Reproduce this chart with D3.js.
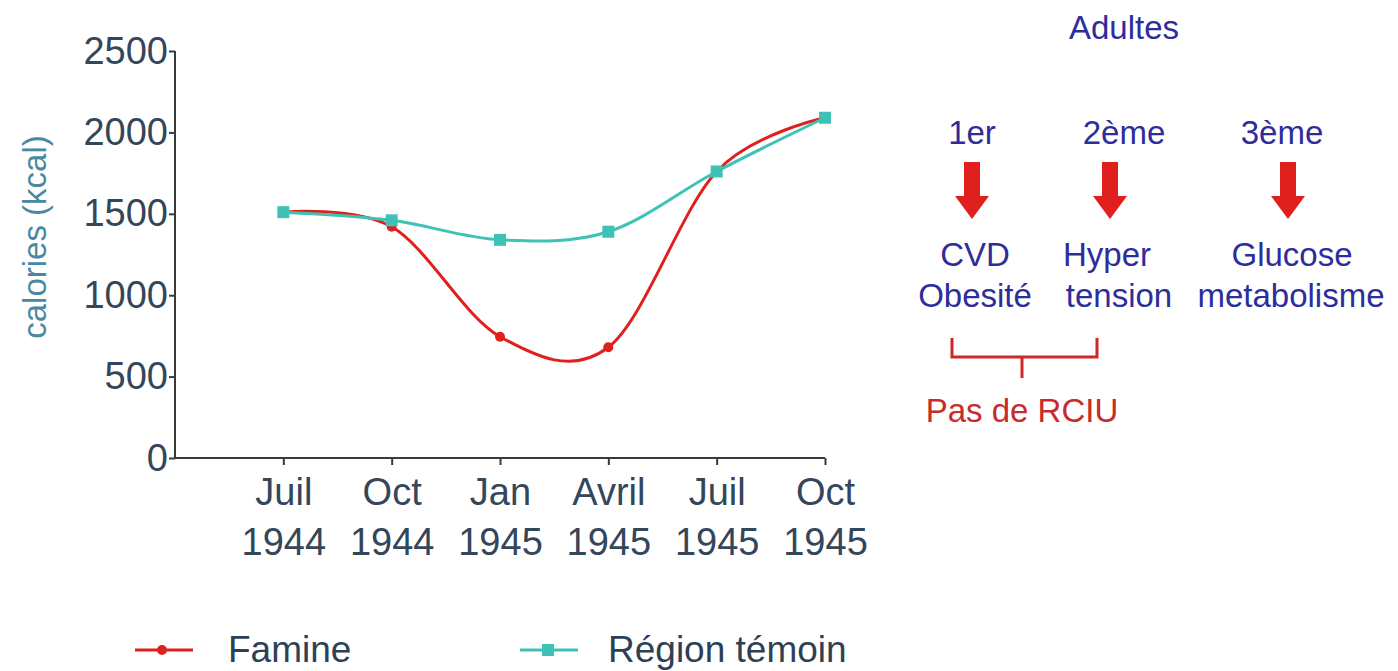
<!DOCTYPE html>
<html lang="fr">
<head>
    <meta charset="UTF-8">
    <title>Famine hollandaise - calories</title>
    <style>
        body {
            margin: 0;
            padding: 0;
            background-color: #ffffff;
            font-family: "Liberation Sans", Arial, sans-serif;
            overflow: hidden;
        }
        .axis path, .axis line {
            stroke: #3a3a3a;
            stroke-width: 2px;
        }
        .axis text {
            fill: #34465a;
            font-size: 38px;
            font-family: "Liberation Sans", Arial, sans-serif;
        }
        .annot {
            fill: #2d2d9c;
            font-size: 33px;
            text-anchor: middle;
        }
    </style>
</head>
<body>
    <div id="chart"></div>

    <script src="https://d3js.org/d3.v7.min.js"></script>
    <script>
        // chart data
        const months = ["Juil", "Oct", "Jan", "Avril", "Juil", "Oct"];
        const years = ["1944", "1944", "1945", "1945", "1945", "1945"];
        const famine = [1510, 1420, 745, 680, 1760, 2090];
        const temoin = [1510, 1460, 1340, 1390, 1760, 2090];
        const yTicks = [0, 500, 1000, 1500, 2000, 2500];

        // side annotations
        const ranks = ["1er", "2ème", "3ème"];
        const outcomes = [["CVD", "Obesité"], ["Hyper", "tension"], ["Glucose", "metabolisme"]];

        const width = 1398, height = 671;
        const red = "#e0201c", teal = "#3fc2b6";

        const svg = d3.select("#chart").append("svg")
            .attr("width", width)
            .attr("height", height);

        const x = d3.scaleLinear().domain([-1, months.length - 1]).range([175, 825]);
        const y = d3.scaleLinear().domain([0, 2500]).range([458, 51]);

        // y axis
        svg.append("g")
            .attr("class", "axis")
            .attr("transform", "translate(175,0)")
            .call(d3.axisLeft(y).tickValues(yTicks).tickFormat(d3.format("d"))
                .tickSize(6).tickPadding(1).tickSizeOuter(0))
            .call(g => g.select(".domain").attr("d", `M0,${y(2500)}V${y(0)}`));

        // x axis with two-line labels
        const xAxis = svg.append("g")
            .attr("class", "axis")
            .attr("transform", `translate(0,${y(0)})`)
            .call(d3.axisBottom(x).tickValues(d3.range(months.length)).tickSize(7).tickSizeOuter(0).tickFormat(""))
            .call(g => g.select(".domain").attr("d", `M${x(-1)},0H${x(months.length - 1)}`));

        xAxis.selectAll(".tick").append("text")
            .attr("fill", "#34465a")
            .attr("text-anchor", "middle")
            .each(function (d) {
                const t = d3.select(this);
                t.append("tspan").attr("x", 0).attr("y", 47).text(months[d]);
                t.append("tspan").attr("x", 0).attr("y", 97).text(years[d]);
            });

        // y axis title
        svg.append("text")
            .attr("transform", "translate(46,237) rotate(-90)")
            .attr("text-anchor", "middle")
            .attr("fill", "#4a87a2")
            .attr("font-size", 33)
            .text("calories (kcal)");

        const line = d3.line()
            .x((d, i) => x(i))
            .y(d => y(d))
            .curve(d3.curveCardinal.tension(0));

        // famine series
        svg.append("path")
            .datum(famine)
            .attr("fill", "none")
            .attr("stroke", red)
            .attr("stroke-width", 3)
            .attr("d", line);

        svg.append("g").selectAll("circle")
            .data(famine)
            .join("circle")
            .attr("cx", (d, i) => x(i))
            .attr("cy", d => y(d))
            .attr("r", 5)
            .attr("fill", red);

        // control region series
        svg.append("path")
            .datum(temoin)
            .attr("fill", "none")
            .attr("stroke", teal)
            .attr("stroke-width", 3)
            .attr("d", line);

        svg.append("g").selectAll("rect")
            .data(temoin)
            .join("rect")
            .attr("x", (d, i) => x(i) - 6)
            .attr("y", d => y(d) - 6)
            .attr("width", 12)
            .attr("height", 12)
            .attr("fill", teal);

        // legend
        const legend = svg.append("g").attr("transform", "translate(0,650)");
        legend.append("line").attr("x1", 135).attr("x2", 193).attr("stroke", red).attr("stroke-width", 3);
        legend.append("circle").attr("cx", 162).attr("r", 5).attr("fill", red);
        legend.append("text").attr("x", 228).attr("y", 12).attr("font-size", 37)
            .attr("fill", "#2e4054").text("Famine");
        legend.append("line").attr("x1", 520).attr("x2", 578).attr("stroke", teal).attr("stroke-width", 3);
        legend.append("rect").attr("x", 542).attr("y", -6).attr("width", 12).attr("height", 12).attr("fill", teal);
        legend.append("text").attr("x", 608).attr("y", 12).attr("font-size", 37)
            .attr("fill", "#2e4054").text("Région témoin");

        // right-hand annotation
        const side = svg.append("g");
        side.append("text").attr("class", "annot").attr("x", 1124).attr("y", 39).attr("font-size", 30).text("Adultes");

        const colX = [972, 1110, 1288];
        const rankX = [972, 1124, 1282];
        ranks.forEach((r, i) => {
            side.append("text").attr("class", "annot").attr("x", rankX[i]).attr("y", 144).text(r);
            const cx = colX[i], top = 162, bottom = 219, neck = 196;
            side.append("path")
                .attr("fill", red)
                .attr("d", `M${cx - 8},${top}H${cx + 8}V${neck}H${cx + 17}L${cx},${bottom}L${cx - 17},${neck}H${cx - 8}Z`);
        });

        const outX = [[975, 975], [1107, 1119], [1292, 1291]];
        outcomes.forEach((lines, i) => {
            lines.forEach((t, j) => {
                side.append("text").attr("class", "annot")
                    .attr("x", outX[i][j]).attr("y", 266 + j * 41).text(t);
            });
        });

        // bracket
        side.append("path")
            .attr("fill", "none")
            .attr("stroke", "#d0282a")
            .attr("stroke-width", 3)
            .attr("d", "M952,338V357H1097V338M1022,357V378");

        side.append("text").attr("class", "annot").attr("x", 1022).attr("y", 422)
            .style("fill", "#c92a2a").text("Pas de RCIU");
    </script>
</body>
</html>
